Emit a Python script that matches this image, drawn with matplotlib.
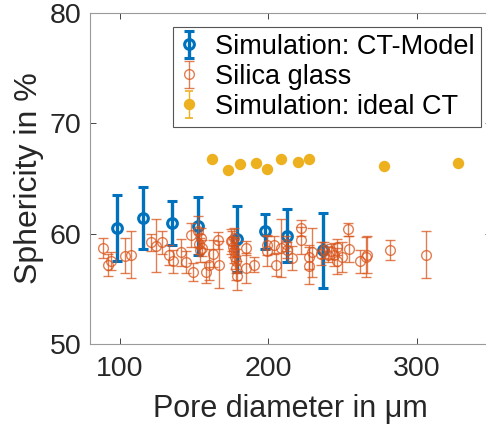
import matplotlib
matplotlib.use("Agg")
import matplotlib.pyplot as plt

plt.rcParams["font.family"] = ["Liberation Sans", "DejaVu Sans"]

# Simulation: CT-Model
ct_x = [98.5, 116.0, 135.5, 153.0, 178.8, 197.8, 212.4, 236.9]
ct_y = [60.5, 61.4, 61.0, 60.7, 59.5, 60.2, 59.8, 58.5]
ct_err = [3.0, 2.8, 2.0, 2.6, 3.0, 1.6, 2.4, 3.4]

# Silica glass
glass_x = [89.0, 92.1, 93.9, 103.4, 107.9, 121.3, 124.7, 128.8, 133.2, 136.2,
           141.5, 144.4, 147.8, 149.6, 152.7, 154.5, 155.7, 157.9, 160.1, 163.1,
           166.2, 166.9, 174.7, 175.9, 176.4, 177.0, 177.4, 178.1, 178.5, 179.3,
           176.8, 185.3, 184.8, 190.7, 199.0, 199.5, 203.9, 205.5, 208.4, 211.8,
           212.9, 216.3, 221.9, 221.9, 227.5, 227.5, 229.8, 235.4, 237.6, 240.3,
           242.1, 244.3, 246.6, 246.6, 250.0, 254.0, 254.4, 261.8, 265.7, 266.8,
           281.8, 306.1, 153.2, 153.9]
glass_y = [58.7, 57.2, 57.5, 58.0, 58.1, 59.2, 58.9, 59.2, 58.1, 57.5,
           58.3, 57.4, 59.9, 56.5, 60.2, 59.6, 58.7, 56.5, 57.2, 58.2,
           59.4, 57.2, 59.3, 59.3, 58.8, 58.4, 57.9, 57.5, 56.9, 56.2,
           59.6, 58.7, 56.9, 57.2, 58.4, 59.0, 59.0, 57.2, 58.7, 59.1,
           58.5, 57.8, 60.5, 59.4, 57.9, 57.1, 58.3, 58.2, 58.5, 58.1,
           58.4, 58.1, 57.5, 58.8, 57.9, 60.4, 58.6, 57.5, 57.9, 58.1,
           58.5, 58.1, 59.1, 58.5]
glass_err = [0.9, 1.0, 0.8, 1.6, 2.1, 0.8, 2.4, 1.0, 0.9, 1.05,
             1.2, 1.0, 1.1, 0.8, 1.4, 0.9, 0.75, 0.95, 1.4, 1.2,
             0.75, 2.1, 1.1, 0.9, 0.9, 1.1, 1.1, 1.1, 1.1, 1.3,
             0.9, 0.6, 1.35, 0.7, 1.35, 0.9, 0.8, 1.05, 2.6, 0.7,
             0.7, 1.05, 0.7, 1.2, 1.1, 1.65, 2.2, 1.0, 0.7, 0.7,
             0.7, 1.05, 1.2, 0.7, 1.35, 0.6, 1.2, 1.05, 1.8, 1.7,
             0.9, 2.1, 0.9, 1.1]

# Simulation: ideal CT
ideal_x = [162.4, 172.9, 181.0, 191.8, 199.5, 208.6, 220.3, 227.7, 277.8, 327.6]
ideal_y = [66.8, 65.8, 66.3, 66.4, 65.9, 66.8, 66.5, 66.8, 66.1, 66.4]
ideal_err = [0.15] * len(ideal_x)

W, H = 486, 432
fig = plt.figure(figsize=(W / 100, H / 100), dpi=100)
ax = fig.add_axes([90 / W, (H - 344) / H, 401 / W, 331 / H])

ax.errorbar(ct_x, ct_y, yerr=ct_err, fmt="o", color="#0072BD", mfc="none",
            ms=7, mew=2.2, elinewidth=2.4, capsize=3.5, capthick=2.4,
            label="Simulation: CT-Model", zorder=3)
ax.errorbar(glass_x, glass_y, yerr=glass_err, fmt="o", color="#D95319",
            mfc="none", ms=7, mew=1.0, elinewidth=1.0, capsize=3.5,
            capthick=1.0, alpha=0.75, label="Silica glass", zorder=4)
ax.errorbar(ideal_x, ideal_y, yerr=ideal_err, fmt="o", color="#EDB120",
            mfc="#EDB120", ms=7, mew=1.2, elinewidth=1.0, capsize=3,
            label="Simulation: ideal CT", zorder=5)

ax.set_xlim(80, 350)
ax.set_ylim(50, 80)
ax.set_xticks([100, 200, 300])
ax.set_yticks([50, 60, 70, 80])
ax.tick_params(direction="in", top=True, right=True, labelsize=20.5,
               colors="#262626", length=4, width=0.6)
ax.tick_params(axis="x", pad=9)
ax.tick_params(axis="y", pad=6)
for s in ax.spines.values():
    s.set_color("#9a9a9a")
    s.set_linewidth(0.8)

ax.set_xlabel("Pore diameter in μm", fontsize=22, color="#262626", labelpad=8)
ax.set_ylabel("Sphericity in %", fontsize=23, color="#262626", labelpad=4)

leg = ax.legend(loc="upper right", bbox_to_anchor=(481 / W, 1 - 27 / H),
                bbox_transform=fig.transFigure, borderaxespad=0,
                fontsize=19.5, fancybox=False, framealpha=1,
                handlelength=0.7, handletextpad=0.6, labelspacing=0.15,
                borderpad=0.25)
leg.get_frame().set_edgecolor("#555555")
leg.get_frame().set_linewidth(0.8)

fig.savefig("out.png", dpi=100)
